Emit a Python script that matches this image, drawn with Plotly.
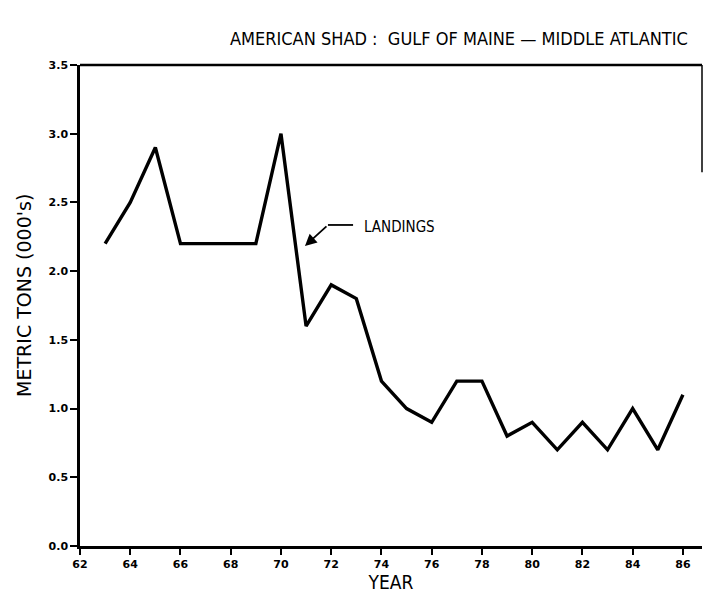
import plotly.graph_objects as go

# American shad landings, Gulf of Maine - Middle Atlantic
years = [63, 64, 65, 66, 67, 68, 69, 70, 71, 72, 73, 74,
         75, 76, 77, 78, 79, 80, 81, 82, 83, 84, 85, 86]
landings = [2.2, 2.5, 2.9, 2.2, 2.2, 2.2, 2.2, 3.0, 1.6, 1.9, 1.8, 1.2,
            1.0, 0.9, 1.2, 1.2, 0.8, 0.9, 0.7, 0.9, 0.7, 1.0, 0.7, 1.1]

x_ticks = list(range(62, 87, 2))
x_tick_labels = [str(v) for v in x_ticks]
y_ticks = [0.0, 0.5, 1.0, 1.5, 2.0, 2.5, 3.0, 3.5]
y_tick_labels = ["0.0", "0.5", "1.0", "1.5", "2.0", "2.5", "3.0", "3.5"]

X_MIN, X_MAX = 62, 86.76
Y_MIN, Y_MAX = 0, 3.5

FONT = "DejaVu Sans, sans-serif"
FONT_C = "DejaVu Sans Condensed, DejaVu Sans, sans-serif"

fig = go.Figure()
fig.add_trace(go.Scatter(
    x=years, y=landings, mode="lines",
    line=dict(color="black", width=3.4),
    showlegend=False,
))

# frame: top edge and the upper part of the right edge
fig.add_shape(type="line", xref="paper", yref="paper",
              x0=0, x1=1, y0=1, y1=1,
              line=dict(color="black", width=2.5))
fig.add_shape(type="line", xref="paper", yref="paper",
              x0=1, x1=1, y0=1, y1=2.72 / Y_MAX,
              line=dict(color="black", width=1.5))

# "LANDINGS" label with bent leader arrow
fig.add_shape(type="line", xref="x", yref="y",
              x0=72.87, x1=71.87, y0=2.336, y1=2.336,
              line=dict(color="black", width=1.8))
fig.add_annotation(
    x=70.955, y=2.183, xref="x", yref="y",
    ax=71.87, ay=2.336, axref="x", ayref="y",
    text="", showarrow=True,
    arrowhead=2, arrowsize=1.3, arrowwidth=1.8, arrowcolor="black",
)
fig.add_annotation(
    x=73.22, y=2.321, xref="x", yref="y",
    text="LANDINGS", showarrow=False, xanchor="left", yanchor="middle",
    font=dict(family=FONT_C, size=15, color="black"),
)

# y-axis title
fig.add_annotation(
    x=-0.09, y=0.52, xref="paper", yref="paper",
    text="METRIC TONS (000's)", showarrow=False, textangle=-90,
    xanchor="center", yanchor="middle",
    font=dict(family=FONT, size=19, color="black"),
)

fig.update_layout(
    width=706, height=594,
    margin=dict(l=80, r=4, t=65, b=48),
    paper_bgcolor="white", plot_bgcolor="white",
    title=dict(
        text="AMERICAN SHAD :  GULF OF MAINE \u2014 MIDDLE ATLANTIC",
        x=0.65, xanchor="center", y=0.935, yanchor="middle",
        font=dict(family=FONT_C, size=18, color="black"),
    ),
    xaxis=dict(
        range=[X_MIN, X_MAX], tickvals=x_ticks, ticktext=x_tick_labels,
        showgrid=False, zeroline=False,
        showline=True, linecolor="black", linewidth=2.5, mirror=False,
        ticks="outside", ticklen=6, tickwidth=1.5, tickcolor="black",
        tickfont=dict(family=FONT, size=11, color="black", weight="bold"),
        title=dict(text="YEAR", standoff=6,
                   font=dict(family=FONT_C, size=19, color="black")),
    ),
    yaxis=dict(
        range=[Y_MIN, Y_MAX], tickvals=y_ticks, ticktext=y_tick_labels,
        showgrid=False, zeroline=False,
        showline=True, linecolor="black", linewidth=2.5, mirror=False,
        ticks="outside", ticklen=7, tickwidth=1.5, tickcolor="black",
        tickfont=dict(family=FONT, size=11, color="black", weight="bold"),
    ),
)

fig.write_html("out.html")
